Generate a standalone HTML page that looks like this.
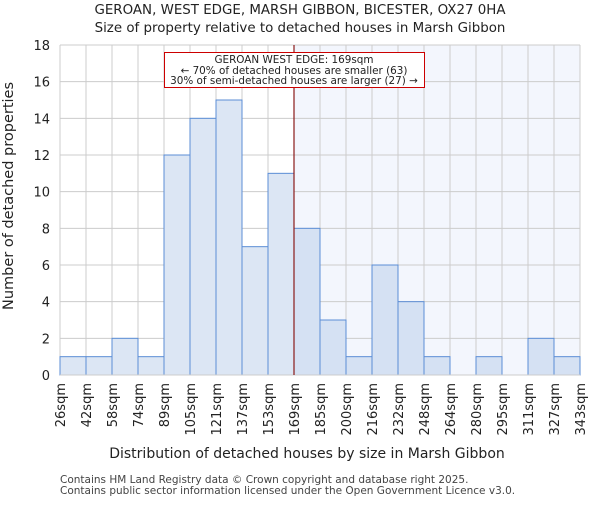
<!DOCTYPE html>
<html><head><meta charset="utf-8"><style>
body{margin:0;background:#fff;font-family:"Liberation Sans","DejaVu Sans",sans-serif}
</style></head><body>
<svg id="c" width="600" height="500" xmlns="http://www.w3.org/2000/svg" font-family="DejaVu Sans, Liberation Sans, sans-serif">
<text x="300" y="14" text-anchor="middle" font-size="13.4" fill="#222">GEROAN, WEST EDGE, MARSH GIBBON, BICESTER, OX27 0HA</text>
<text x="300" y="32" text-anchor="middle" font-size="13.4" fill="#222">Size of property relative to detached houses in Marsh Gibbon</text>
<g id="plot"></g>
<text x="307" y="458" text-anchor="middle" font-size="14" fill="#222">Distribution of detached houses by size in Marsh Gibbon</text>
<text transform="translate(13,196) rotate(-90)" text-anchor="middle" font-size="14.5" fill="#222">Number of detached properties</text>
<text x="60" y="483" font-size="10.5" fill="#444">Contains HM Land Registry data © Crown copyright and database right 2025.</text>
<text x="60" y="494" font-size="10.5" fill="#444">Contains public sector information licensed under the Open Government Licence v3.0.</text>
</svg>
<script>
const labels=["26sqm","42sqm","58sqm","74sqm","89sqm","105sqm","121sqm","137sqm","153sqm","169sqm","185sqm","200sqm","216sqm","232sqm","248sqm","264sqm","280sqm","295sqm","311sqm","327sqm","343sqm"];
const counts=[1,1,2,1,12,14,15,7,11,8,3,1,6,4,1,0,1,0,2,1];
const yTicks=[0,2,4,6,8,10,12,14,16,18];
const markerIndex=9;
const NS="http://www.w3.org/2000/svg";
const g=document.getElementById('plot');
const X0=60,X1=580,Y0=375,Y1=45,YMAX=18;
const bw=(X1-X0)/counts.length;
const xs=i=>X0+i*bw;
const ys=v=>Y0-(v/YMAX)*(Y0-Y1);
function mk(t,a){const e=document.createElementNS(NS,t);for(const k in a)e.setAttribute(k,a[k]);g.appendChild(e);return e;}
let e=mk('rect',{x:xs(markerIndex),y:Y1,width:X1-xs(markerIndex),height:Y0-Y1,fill:'#f3f6fd'});


yTicks.forEach(v=>{
 let l=mk('line',{x1:X0,x2:X1,y1:ys(v),y2:ys(v),stroke:'#ccc','stroke-width':1});
 
 
 let t=mk('text',{x:X0-10,y:ys(v)+5,'text-anchor':'end','font-size':13,fill:'#222'});t.textContent=v;
 
 
});
labels.forEach((s,i)=>{
 let l=mk('line',{x1:xs(i),x2:xs(i),y1:Y1,y2:Y0,stroke:'#ccc','stroke-width':1});
 
 
 let t=mk('text',{transform:`translate(${xs(i)+5},383) rotate(-90)`,'text-anchor':'end','font-size':13,fill:'#222'});t.textContent=s;
 
 
});
counts.forEach((v,i)=>{
 if(v<=0)return;
 let r=mk('rect',{x:xs(i),y:ys(v),width:bw,height:Y0-ys(v),fill:i>=markerIndex?'#d5e1f3':'#dce6f4',stroke:'#5b8dd6','stroke-width':1});
 
 
});
e=mk('line',{x1:X0,x2:X1,y1:Y0,y2:Y0,stroke:'#ccc'});


e=mk('line',{x1:xs(markerIndex),x2:xs(markerIndex),y1:Y1,y2:Y0,stroke:'#8b1a1a','stroke-width':1.2});


e=mk('rect',{x:164.5,y:52.5,width:260,height:35,fill:'#fff',stroke:'#c00','stroke-width':1});


[["GEROAN WEST EDGE: 169sqm",63],["← 70% of detached houses are smaller (63)",74],["30% of semi-detached houses are larger (27) →",84]].forEach(([s,y])=>{
 let t=mk('text',{x:294,y:y,'text-anchor':'middle','font-size':10.4,fill:'#222'});t.textContent=s;
 
 
});
</script>
</body></html>
